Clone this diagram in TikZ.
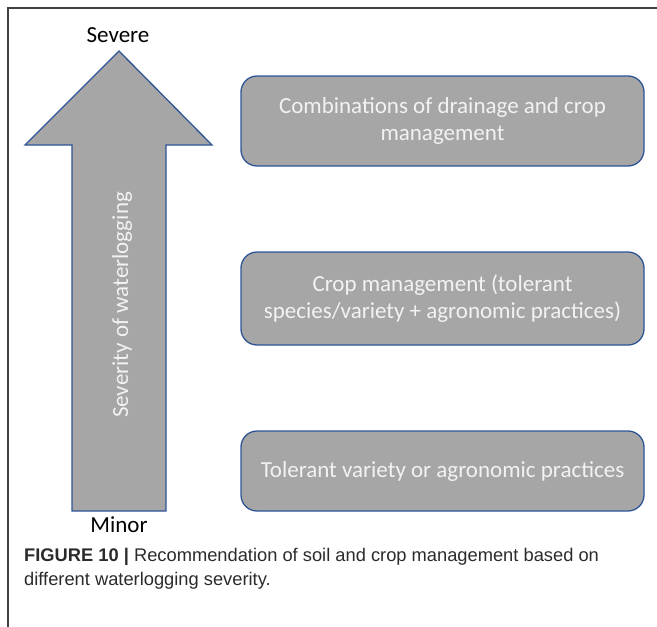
\documentclass[tikz,border=0pt]{standalone}
\usepackage{fontspec}
\setmainfont{Carlito}
\newfontfamily\capfont{Liberation Sans}
\definecolor{boxgray}{HTML}{A6A6A6}
\definecolor{boxblue}{HTML}{2F5597}
\definecolor{txtwhite}{HTML}{F2F2F2}
\definecolor{capgray}{HTML}{2B2B2B}
\begin{document}
\begin{tikzpicture}[x=1pt,y=-1pt,
  recbox/.style={draw=boxblue, line width=1.3pt, fill=boxgray, rounded corners=16pt,
    text=txtwhite, font=\fontsize{23}{27}\selectfont, align=center,
    minimum width=403pt, inner sep=0pt},
  endlabel/.style={text=black, font=\fontsize{23}{27}\selectfont, inner sep=0pt, anchor=base},
  arrowshape/.style={draw=boxblue, line width=1.3pt, fill=boxgray, line join=miter}
]
\useasboundingbox (0,0) rectangle (657,627);
\draw[line width=1.5pt, draw=black!75] (8,627) -- (8,8) -- (657,8);

\draw[arrowshape] (119,51) -- (212,145) -- (166,145) -- (166,511) -- (72,511) -- (72,145) -- (25,145) -- cycle;
\node[text=txtwhite, font=\fontsize{23}{27}\selectfont, rotate=90, anchor=base, inner sep=0pt] (sev) at (128,305) {Severity of waterlogging};
\node[endlabel] (severe) at (118,42) {Severe};
\node[endlabel] (minor) at (119,532) {Minor};

\node[recbox, minimum height=90pt] (b1) at (442.5,121) {Combinations of drainage and crop\\management};
\node[recbox, minimum height=93pt] (b2) at (442.5,298.5) {Crop management (tolerant\\species/variety + agronomic practices)};
\node[recbox, minimum height=80pt] (b3) at (442.5,471) {Tolerant variety or agronomic practices};

\node[anchor=base west, align=left, text=capgray, inner sep=0pt,
  font=\capfont\fontsize{18.3}{24}\selectfont] (cap) at (24,585)
  {{\bfseries FIGURE 10 |} Recommendation of soil and crop management based on\\different waterlogging severity.};
\end{tikzpicture}
\end{document}
